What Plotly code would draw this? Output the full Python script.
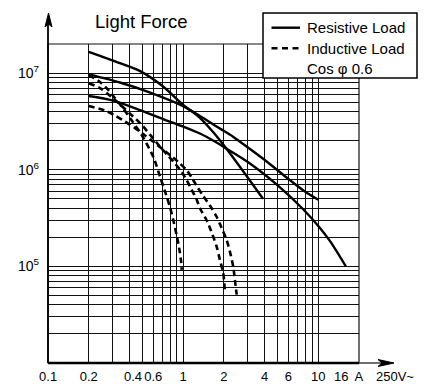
import math
import plotly.graph_objects as go

# ---------------- data (current in A, operations) ----------------
res_a_current = [0.2, 0.31, 0.48, 0.7, 1.0, 1.33, 1.69, 2.1, 2.85, 3.9]
res_a_ops = [1.66e7, 1.33e7, 1.05e7, 7.4e6, 4.7e6, 3.45e6, 2.4e6, 1.64e6, 9.2e5, 5.0e5]

res_b_current = [0.2, 0.34, 0.57, 1.0, 1.33, 1.87, 2.34, 3.12, 4.17, 6.17, 7.96, 10]
res_b_ops = [9.7e6, 8.0e6, 6.3e6, 4.56e6, 3.6e6, 2.67e6, 2.2e6, 1.64e6, 1.21e6, 7.8e5, 5.95e5, 4.9e5]

res_c_current = [0.2, 0.303, 0.479, 0.709, 0.98, 1.33, 1.69, 2.14, 3.12, 5.26, 7.73, 10.3, 12.3, 16]
res_c_ops = [5.8e6, 5.2e6, 4.15e6, 3.35e6, 2.83e6, 2.37e6, 1.98e6, 1.62e6, 1.16e6, 6.5e5, 3.9e5, 2.5e5, 1.8e5, 1.0e5]

ind_a_current = [0.2, 0.242, 0.279, 0.313, 0.351, 0.404, 0.493, 0.601, 0.674, 0.733, 0.799, 0.845, 0.895, 0.939, 0.966, 0.975]
ind_a_ops = [9.55e6, 8.1e6, 6.7e6, 5.5e6, 4.5e6, 3.43e6, 2.29e6, 1.36e6, 8.5e5, 6.0e5, 4.1e5, 3.0e5, 2.1e5, 1.48e5, 1.11e5, 9.2e4]

ind_b_current = [0.2, 0.242, 0.296, 0.371, 0.479, 0.585, 0.674, 0.776, 0.87, 0.975, 1.061, 1.156, 1.259, 1.331, 1.492, 1.578, 1.769, 1.872, 1.98, 2.04]
ind_b_ops = [7.85e6, 7.0e6, 5.65e6, 4.25e6, 3.04e6, 2.2e6, 1.73e6, 1.39e6, 1.16e6, 9.5e5, 7.8e5, 6.2e5, 4.9e5, 4.0e5, 3.0e5, 2.5e5, 1.6e5, 1.16e5, 8.5e4, 5.3e4]

ind_c_current = [0.2, 0.264, 0.313, 0.371, 0.44, 0.522, 0.619, 0.733, 0.826, 0.92, 1.061, 1.156, 1.259, 1.408, 1.625, 1.769, 1.872, 2.098, 2.22, 2.348, 2.416, 2.49]
ind_c_ops = [4.56e6, 4.1e6, 3.64e6, 3.15e6, 2.7e6, 2.26e6, 1.89e6, 1.56e6, 1.37e6, 1.2e6, 9.9e5, 8.3e5, 6.8e5, 5.35e5, 4.0e5, 3.26e5, 2.74e5, 1.87e5, 1.41e5, 9.9e4, 7.2e4, 5.1e4]

# ---------------- axes / ticks ----------------
x_tickvals = [0.1, 0.2, 0.6, 1, 2, 4, 6, 10, 20]
x_ticktext = ["0.1", "0.2", "0.6", "1", "2", "4", "6", "10", "A"]
x_minor_grid = [0.3, 0.4, 0.5, 0.7, 0.8, 0.9, 3, 5, 7, 8, 9]
x_extra_labels = [(0.4, "0.4", 3.5), (16, "16", -5)]   # (value, text, label nudge)
x_unit = "250V~"

y_tickvals = [1e5, 1e6, 1e7]
y_ticktext = ["10<sup>5</sup>", "10<sup>6</sup>", "10<sup>7</sup>"]
y_minor_grid = [m * 10 ** e for e in (4, 5, 6) for m in range(2, 10)]

title_text = "Light Force"
legend_res = "Resistive Load"
legend_ind = "Inductive Load"
legend_ind2 = "Cos φ 0.6"

FONT = "Liberation Sans, Arial, Helvetica, sans-serif"
GRID = "#111"
XFS = 13

fig = go.Figure()

solid = dict(color="black", width=2.4, shape="spline", smoothing=0.8)
dashed = dict(color="black", width=2.6, dash="6px,4px", shape="spline", smoothing=0.8)

for xs, ys in [(res_a_current, res_a_ops), (res_b_current, res_b_ops), (res_c_current, res_c_ops)]:
    fig.add_trace(go.Scatter(x=xs, y=ys, mode="lines", line=solid, name=legend_res,
                             showlegend=False, hoverinfo="skip"))
for xs, ys in [(ind_a_current, ind_a_ops), (ind_b_current, ind_b_ops), (ind_c_current, ind_c_ops)]:
    fig.add_trace(go.Scatter(x=xs, y=ys, mode="lines", line=dashed, name=legend_ind,
                             showlegend=False, hoverinfo="skip"))

eps = 0.0006
fig.update_xaxes(type="log", range=[math.log10(0.1) - eps, math.log10(20) + eps],
                 tickmode="array", tickvals=x_tickvals, ticktext=x_ticktext, tickangle=0,
                 showgrid=True, gridcolor=GRID, gridwidth=1.1,
                 minor=dict(tickmode="array", tickvals=x_minor_grid, showgrid=True,
                            gridcolor=GRID, gridwidth=1.1, ticks=""),
                 showline=False, zeroline=False, ticks="", automargin=False,
                 tickfont=dict(family=FONT, size=XFS, color="black"),
                 ticklabelstandoff=4)
fig.update_yaxes(type="log", range=[4 - eps, math.log10(2e7) + eps],
                 tickmode="array", tickvals=y_tickvals, ticktext=y_ticktext,
                 showgrid=True, gridcolor=GRID, gridwidth=1.1,
                 minor=dict(tickmode="array", tickvals=y_minor_grid, showgrid=True,
                            gridcolor=GRID, gridwidth=1.1, ticks=""),
                 showline=False, zeroline=False, ticks="", automargin=False,
                 tickfont=dict(family=FONT, size=14, color="black"),
                 ticklabelstandoff=8)

# page body adds an 8px offset around the figure
OFF = 8
W, H = 428 - OFF, 385 - OFF
PL, PR, PT, PB = 48, 359, 44, 363          # plot area in screen pixels
L, T = PL - OFF, PT - OFF
pw, ph = PR - PL, PB - PT
R, B = W - L - pw, H - T - ph

def px(xs):
    return (xs - PL) / pw

def py(ys):
    return (PB - ys) / ph

LABEL_Y = 376.5

shapes = [
    # plot border (top/right)
    dict(type="rect", xref="paper", yref="paper", x0=0, y0=0, x1=1, y1=1,
         line=dict(color=GRID, width=1.2), layer="below"),
    # y axis line with arrow
    dict(type="line", xref="paper", yref="paper", x0=0, y0=0, x1=0, y1=py(22),
         line=dict(color="black", width=1.8)),
    dict(type="path", xref="paper", yref="paper",
         path=f"M {px(48.5)},{py(13)} L {px(45)},{py(27)} L {px(48.5)},{py(24)} L {px(52)},{py(27)} Z",
         fillcolor="black", line=dict(color="black", width=1)),
    # x axis line with arrow
    dict(type="line", xref="paper", yref="paper", x0=0, y0=0, x1=1, y1=0,
         line=dict(color="black", width=2.6)),
    dict(type="line", xref="paper", yref="paper", x0=1, y0=0, x1=px(385), y1=0,
         line=dict(color="#333", width=1.4)),
    dict(type="path", xref="paper", yref="paper",
         path=f"M {px(394)},{py(363)} L {px(378)},{py(359.5)} L {px(382)},{py(363)} L {px(378)},{py(366.5)} Z",
         fillcolor="black", line=dict(color="black", width=1)),
    # legend box
    dict(type="rect", xref="paper", yref="paper", x0=px(263), y0=py(78), x1=px(417), y1=py(13),
         fillcolor="white", line=dict(color="black", width=1.5)),
    dict(type="line", xref="paper", yref="paper", x0=px(271.5), y0=py(27.7), x1=px(300), y1=py(27.7),
         line=dict(color="black", width=2.4)),
    dict(type="line", xref="paper", yref="paper", x0=px(271.5), y0=py(48.3), x1=px(300), y1=py(48.3),
         line=dict(color="black", width=2.6, dash="6px,4.5px")),
]

annotations = [
    dict(text=title_text, xref="paper", yref="paper", x=px(141.7), y=py(21.5),
         xanchor="center", yanchor="middle", showarrow=False,
         font=dict(family=FONT, size=18.5, color="black")),
    dict(text=x_unit, xref="paper", yref="paper", x=px(395), y=py(LABEL_Y),
         xanchor="center", yanchor="middle", showarrow=False,
         font=dict(family=FONT, size=XFS, color="black")),
    dict(text=legend_res, xref="paper", yref="paper", x=px(305), y=py(27.7),
         xanchor="left", yanchor="middle", showarrow=False,
         font=dict(family=FONT, size=15, color="black")),
    dict(text=legend_ind, xref="paper", yref="paper", x=px(305), y=py(48.3),
         xanchor="left", yanchor="middle", showarrow=False,
         font=dict(family=FONT, size=15, color="black")),
    dict(text=legend_ind2, xref="paper", yref="paper", x=px(305), y=py(68.3),
         xanchor="left", yanchor="middle", showarrow=False,
         font=dict(family=FONT, size=15, color="black")),
]
for val, txt, nudge in x_extra_labels:
    annotations.append(dict(text=txt, xref="x", yref="paper", x=math.log10(val), y=py(LABEL_Y),
                            xanchor="center", yanchor="middle", showarrow=False, xshift=nudge,
                            font=dict(family=FONT, size=XFS, color="black")))

fig.update_layout(
    width=W, height=H,
    margin=dict(l=L, r=R, t=T, b=B, pad=0, autoexpand=False),
    paper_bgcolor="white", plot_bgcolor="white",
    font=dict(family=FONT, color="black"),
    shapes=shapes, annotations=annotations,
    showlegend=False,
)

fig.write_html("out.html")
